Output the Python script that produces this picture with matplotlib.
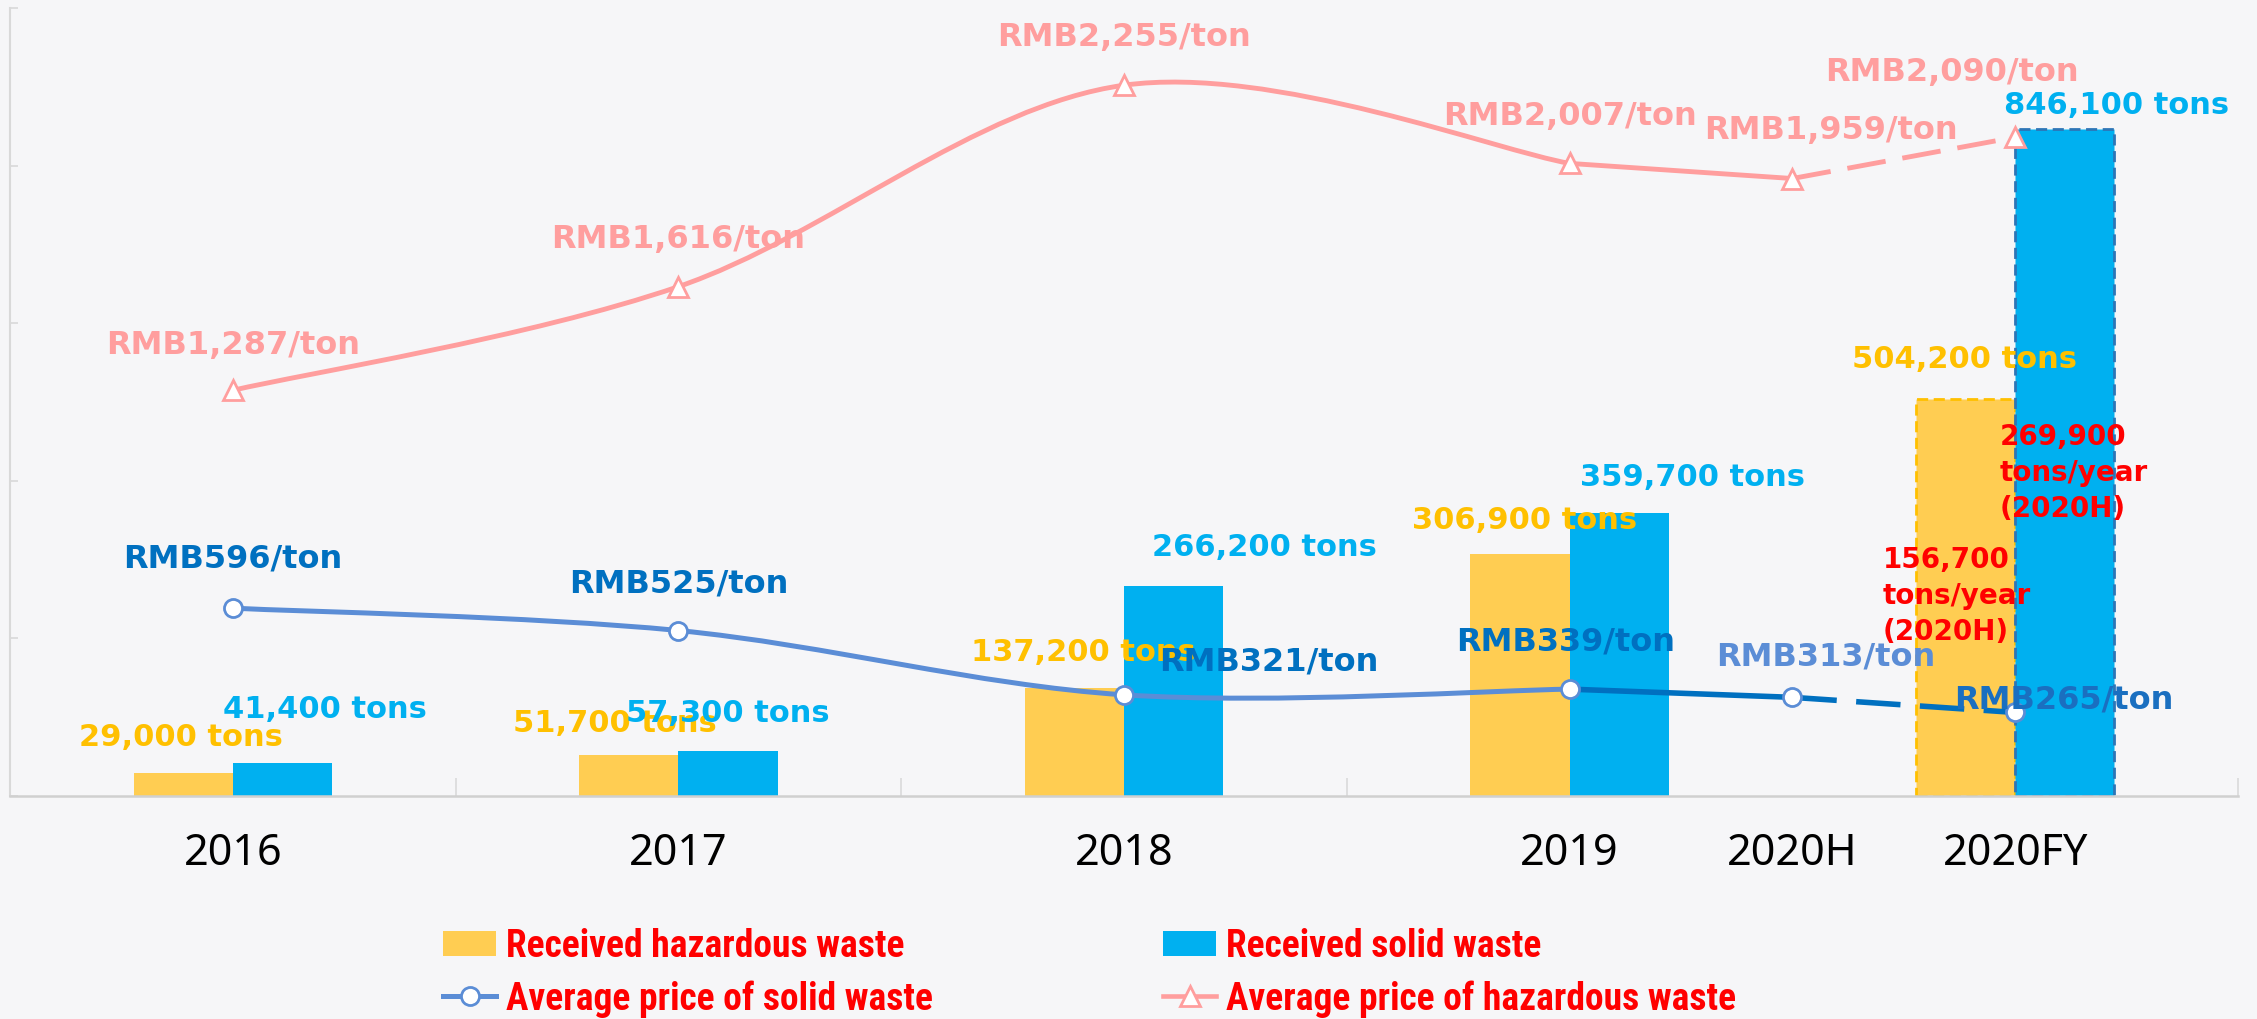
import numpy as np
import matplotlib
matplotlib.use("Agg")
import matplotlib.pyplot as plt
from matplotlib.path import Path
from matplotlib.patches import PathPatch, Patch
from matplotlib.lines import Line2D
from matplotlib import font_manager as fm

# ---------------- data ----------------
bar_categories = ["2016", "2017", "2018", "2019", "2020FY"]
hazardous_received = [29000, 51700, 137200, 306900, 504200]
solid_received = [41400, 57300, 266200, 359700, 846100]

price_periods = ["2016", "2017", "2018", "2019", "2020H", "2020FY"]
hazardous_price = [1287, 1616, 2255, 2007, 1959, 2090]
solid_price = [596, 525, 321, 339, 313, 265]

h1_hazardous_capacity = 156700
h1_solid_capacity = 269900

legend_labels = ["Received hazardous waste", "Received solid waste",
                 "Average price of solid waste", "Average price of hazardous waste"]

# ---------------- style ----------------
YEL = "#FFCD52"
YEL_TXT = "#FFC000"
BLUE = "#00B0F0"
PINK = "#FF9E9E"
SOLID_LIGHT = "#5B8DD6"
SOLID_DARK = "#0070C0"
RED = "#FF0000"
BG = "#f6f6f8"


def has_font(fam):
    try:
        fm.findfont(fm.FontProperties(family=fam), fallback_to_default=False)
        return True
    except Exception:
        return False


W, H = 2257, 1020
fig = plt.figure(figsize=(W / 100, H / 100), dpi=100, facecolor=BG)
ax = fig.add_axes([10 / W, 1 - 797 / H, 2228 / W, 788 / H])
ax.set_facecolor("none")
ax.set_xlim(-0.5, 4.5)
ax.set_ylim(0, 1_000_000)
ax2 = ax.twinx()
ax2.set_ylim(0, 2500)

pos = {c: i for i, c in enumerate(bar_categories)}
pos["2020H"] = (pos["2019"] + pos["2020FY"]) / 2
px = [pos[p] for p in price_periods]

# ---------------- bars ----------------
bw = 0.2226
idx = np.arange(len(bar_categories))
ybars = ax.bar(idx - bw / 2, hazardous_received, bw, color=YEL, zorder=2)
bbars = ax.bar(idx + bw / 2, solid_received, bw, color=BLUE, zorder=2)
ybars[-1].set_edgecolor(YEL_TXT)
ybars[-1].set_linestyle((0, (4, 2)))
ybars[-1].set_linewidth(2)
bbars[-1].set_edgecolor("#2E75B6")
bbars[-1].set_linestyle((0, (4, 2)))
bbars[-1].set_linewidth(2)

# ---------------- axes styling ----------------
for s in ["top", "right"]:
    ax.spines[s].set_visible(False)
    ax2.spines[s].set_visible(False)
ax2.spines["left"].set_visible(False)
ax2.spines["bottom"].set_visible(False)
ax.spines["left"].set_color("#d9d9d9")
ax.spines["left"].set_linewidth(1.5)
ax.spines["bottom"].set_color("#d0d0d0")
ax.spines["bottom"].set_linewidth(1.8)
ax.set_yticks(np.arange(0, 1_000_001, 200_000))
ax.tick_params(axis="y", direction="in", length=6, width=1.2, color="#d9d9d9",
               labelleft=False)
ax2.set_yticks([])
ax.set_xticks([pos[p] for p in price_periods])
ax.set_xticklabels(price_periods)
ax.set_xticks(np.arange(-0.5, 4.6, 1.0), minor=True)
tick_family = "Noto Sans" if has_font("Noto Sans") else "DejaVu Sans"
ax.tick_params(axis="x", which="major", length=0, pad=25, labelsize=31,
               labelcolor="black")
for t in ax.get_xticklabels():
    t.set_family(tick_family)
ax.tick_params(axis="x", which="minor", direction="in", length=13, width=1.2,
               color="#dadada")


# ---------------- lines ----------------
def smooth_path(xs, ys):
    pts = np.column_stack([xs, ys]).astype(float)
    n = len(pts)
    verts = [pts[0]]
    codes = [Path.MOVETO]
    for i in range(n - 1):
        p0 = pts[i - 1] if i > 0 else pts[i]
        p1 = pts[i]
        p2 = pts[i + 1]
        p3 = pts[i + 2] if i + 2 < n else pts[i + 1]
        verts += [p1 + (p2 - p0) / 6, p2 - (p3 - p1) / 6, p2]
        codes += [Path.CURVE4] * 3
    return Path(verts, codes)


i19 = price_periods.index("2019")
i20h = price_periods.index("2020H")

ax2.add_patch(PathPatch(smooth_path(px[:i19 + 1], hazardous_price[:i19 + 1]),
                        fc="none", ec=PINK, lw=3.5, capstyle="round", zorder=3))
ax2.plot(px[i19:i20h + 1], hazardous_price[i19:i20h + 1], color=PINK, lw=3.5, zorder=3)
ax2.plot(px[i20h:], hazardous_price[i20h:], color=PINK, lw=3.5, ls=(0, (8, 3.5)), zorder=3)
ax2.plot(px, hazardous_price, ls="none", marker="^", ms=14, mfc="white", mec=PINK,
         mew=2.0, zorder=4)

ax2.add_patch(PathPatch(smooth_path(px[:i19 + 1], solid_price[:i19 + 1]),
                        fc="none", ec=SOLID_LIGHT, lw=3.6, capstyle="round", zorder=3))
ax2.plot(px[i19:i20h + 1], solid_price[i19:i20h + 1], color=SOLID_DARK, lw=4, zorder=3)
ax2.plot(px[i20h:], solid_price[i20h:], color=SOLID_DARK, lw=4, ls=(0, (8, 3.5)), zorder=3)
ax2.plot(px, solid_price, ls="none", marker="o", ms=13, mfc="white", mec=SOLID_LIGHT,
         mew=2.0, zorder=4)

# ---------------- labels ----------------
lab = dict(fontweight="bold", family="DejaVu Sans", ha="center", va="center",
           textcoords="offset pixels", annotation_clip=False, zorder=6)

haz_bar_off = [(-2, 37), (-14, 33), (9, 36), (5, 35), (-1, 40)]
sol_bar_off = [(43, 55), (0, 38), (91, 40), (73, 36), (52, 25)]
for i, v in enumerate(hazardous_received):
    ax.annotate(f"{v:,} tons", (idx[i] - bw / 2, v), xytext=haz_bar_off[i],
                color=YEL_TXT, fontsize=22, **lab)
for i, v in enumerate(solid_received):
    ax.annotate(f"{v:,} tons", (idx[i] + bw / 2, v), xytext=sol_bar_off[i],
                color=BLUE, fontsize=22, **lab)

haz_price_off = [(0, 46), (0, 48), (0, 49), (0, 48), (39, 49), (-63, 66)]
sol_price_off = [(0, 50), (0, 48), (145, 34), (-4, 48), (33, 41), (49, 13)]
sol_price_col = [SOLID_DARK, SOLID_DARK, SOLID_DARK, SOLID_DARK, SOLID_LIGHT, "#1A6FC0"]
for i, v in enumerate(hazardous_price):
    ax2.annotate(f"RMB{v:,}/ton", (px[i], v), xytext=haz_price_off[i],
                 color=PINK, fontsize=23, **lab)
for i, v in enumerate(solid_price):
    ax2.annotate(f"RMB{v:,}/ton", (px[i], v), xytext=sol_price_off[i],
                 color=sol_price_col[i], fontsize=23, **lab)

red = dict(fontweight="bold", family="DejaVu Sans", ha="left", va="center",
           color=RED, fontsize=20, linespacing=1.36, textcoords="offset pixels",
           annotation_clip=False, zorder=7)
anchor = (idx[-1] - bw / 2, hazardous_received[-1])
ax.annotate(f"{h1_solid_capacity:,}\ntons/year\n(2020H)", anchor, xytext=(34, -73), **red)
ax.annotate(f"{h1_hazardous_capacity:,}\ntons/year\n(2020H)", anchor, xytext=(-83, -196), **red)

# ---------------- legend ----------------
lprop = None
for fam in ["Liberation Sans Narrow", "Roboto Condensed", "Open Sans Condensed"]:
    if has_font(fam):
        lprop = fm.FontProperties(family=fam, weight="bold", size=20)
        break
if lprop is None:
    cand = fm.FontProperties(family="DejaVu Sans", weight="bold", stretch="condensed", size=20)
    if "Condensed" in fm.findfont(cand):
        lprop = cand
    else:
        lprop = fm.FontProperties(family="DejaVu Sans", weight="bold", size=20)

# fit legend font so the first label spans about 405 px like the reference
renderer = fig.canvas.get_renderer()
probe = fig.text(0, 0, legend_labels[0], fontproperties=lprop)
wpx = probe.get_window_extent(renderer).width
probe.remove()
lsize = min(20 * 405 / wpx, 27)
lprop.set_size(lsize)
fpx = lsize * 100 / 72

h_haz_bar = Patch(fc=YEL, ec="none")
h_sol_bar = Patch(fc=BLUE, ec="none")
h_sol_line = Line2D([], [], color=SOLID_LIGHT, lw=3.6, marker="o", ms=13, mfc="white",
                    mec=SOLID_LIGHT, mew=2)
h_haz_line = Line2D([], [], color=PINK, lw=3.3, marker="^", ms=14, mfc="white",
                    mec=PINK, mew=2)

common = dict(loc="center left", frameon=False, prop=lprop, labelcolor=RED,
              handlelength=53 / fpx, handleheight=25 / fpx, handletextpad=10 / fpx,
              borderpad=0, borderaxespad=0, bbox_transform=fig.transFigure)
entries = [(h_haz_bar, legend_labels[0], 443, 947),
           (h_sol_bar, legend_labels[1], 1163, 947),
           (h_sol_line, legend_labels[2], 443, 999),
           (h_haz_line, legend_labels[3], 1163, 999)]
for hnd, txt, lx, ly in entries:
    fig.legend([hnd], [txt], bbox_to_anchor=(lx / W, 1 - ly / H), **common)

fig.savefig("out.png", dpi=100, facecolor=BG)
